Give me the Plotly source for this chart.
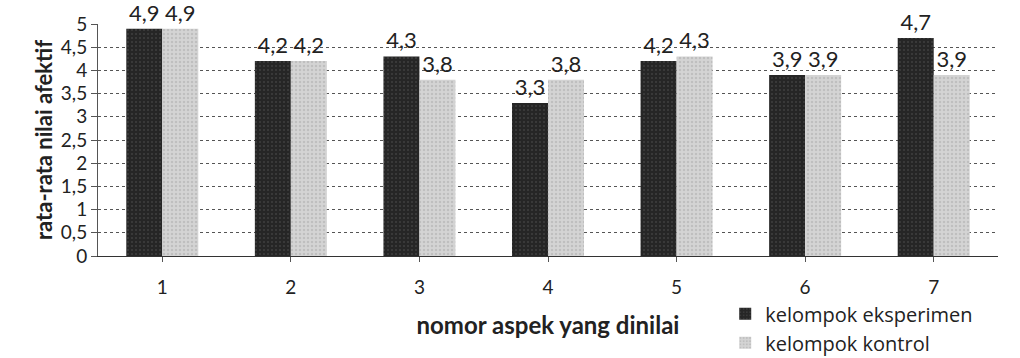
import plotly.graph_objects as go

categories = ["1", "2", "3", "4", "5", "6", "7"]
eksperimen = [4.9, 4.2, 4.3, 3.3, 4.2, 3.9, 4.7]
kontrol = [4.9, 4.2, 3.8, 3.8, 4.3, 3.9, 3.9]
series_names = ["kelompok eksperimen", "kelompok kontrol"]

FONT = "Lato, Open Sans, sans-serif"

fig = go.Figure()
fig.add_trace(go.Bar(
    x=categories, y=eksperimen, name=series_names[0],
    marker=dict(color="#262626", line=dict(width=0),
                pattern=dict(shape=".", fgcolor="#555555", size=4, solidity=0.2)),
    texttemplate="%{y:.1f}", textposition="outside",
    textfont=dict(size=22, color="#222", family=FONT), cliponaxis=False,
))
fig.add_trace(go.Bar(
    x=categories, y=kontrol, name=series_names[1],
    marker=dict(color="#d4d4d4", line=dict(width=0),
                pattern=dict(shape=".", fgcolor="#aaaaaa", size=4, solidity=0.3)),
    texttemplate="%{y:.1f}", textposition="outside",
    textfont=dict(size=22, color="#222", family=FONT), cliponaxis=False,
))

fig.update_layout(
    width=1020, height=358,
    margin=dict(l=98, r=22, t=24, b=102, autoexpand=False),
    paper_bgcolor="white", plot_bgcolor="white",
    separators=",.",
    barmode="group", bargap=0.44, bargroupgap=0.0,
    font=dict(family=FONT, size=19, color="#222"),
    showlegend=True,
    legend=dict(xref="container", yref="container", x=0.711, y=0.178,
                xanchor="left", yanchor="top",
                font=dict(size=20, color="#222", family="Open Sans, sans-serif"),
                traceorder="normal",
                tracegroupgap=0, itemwidth=30, bgcolor="rgba(0,0,0,0)"),
    xaxis=dict(
        title=dict(text="<b>nomor aspek yang dinilai</b>", font=dict(size=24), standoff=20),
        tickfont=dict(size=19), showgrid=False, ticks="outside", ticklen=5,
        ticklabelstandoff=9,
        tickcolor="#555", showline=True, linecolor="#333", linewidth=1,
        automargin=False,
    ),
    yaxis=dict(
        title=dict(text="<b>rata-rata nilai afektif</b>", font=dict(size=22), standoff=2),
        range=[0, 5], dtick=0.5, tickfont=dict(size=19),
        showgrid=True, gridcolor="#555", griddash="dot", gridwidth=1,
        ticks="outside", ticklen=6, tickcolor="#555",
        showline=True, linecolor="#555", linewidth=1, zeroline=False,
        automargin=False,
    ),
)
fig.update_xaxes(range=[-0.5, 6.5])
fig.write_html("out.html", config={"displayModeBar": False},
               post_script="document.body.style.margin='0';")
